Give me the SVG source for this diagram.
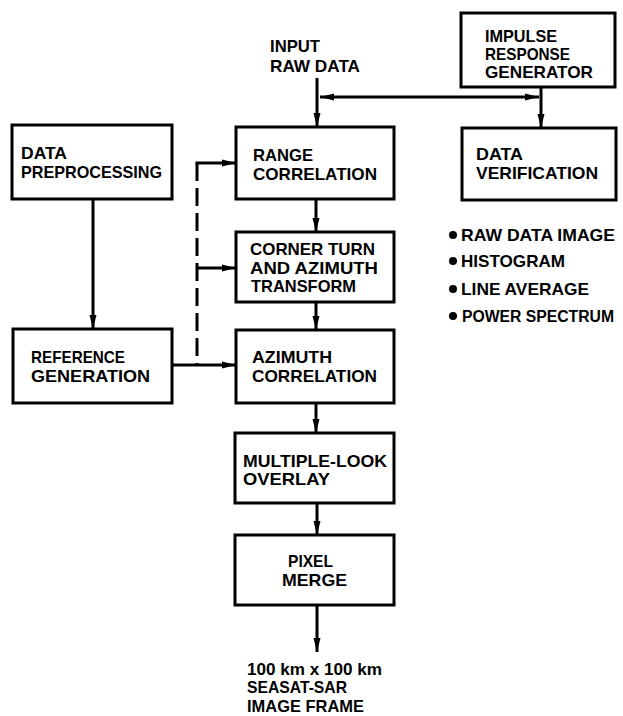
<svg xmlns="http://www.w3.org/2000/svg" width="623" height="716" viewBox="0 0 623 716">
<style>
.box{fill:#fff;stroke:#000;stroke-width:3}
.t{font-family:"Liberation Sans",Arial,sans-serif;font-weight:bold;font-size:17px;fill:#000}
.c{fill:none;stroke:#000;stroke-width:3}
.d{fill:none;stroke:#000;stroke-width:3;stroke-dasharray:18 7}
</style>
<defs>
<marker id="ah" viewBox="0 0 14 8" refX="14" refY="4" markerWidth="14" markerHeight="8" markerUnits="userSpaceOnUse" orient="auto-start-reverse">
<path d="M0,0.5 L14,4 L0,7.5 z" fill="#000"/>
</marker>
</defs>
<rect width="623" height="716" fill="#fff"/>
<g id="connectors">
<path class="c" d="M317,78 V127" marker-end="url(#ah)"/>
<path class="c" d="M320,97 H539" marker-start="url(#ah)" marker-end="url(#ah)"/>
<path class="c" d="M541,87 V128" marker-end="url(#ah)"/>
<path class="c" d="M316,199 V232" marker-end="url(#ah)"/>
<path class="c" d="M316,302 V330" marker-end="url(#ah)"/>
<path class="c" d="M316,403 V433" marker-end="url(#ah)"/>
<path class="c" d="M317,503 V535" marker-end="url(#ah)"/>
<path class="c" d="M317,605 V652" marker-end="url(#ah)"/>
<path class="c" d="M93,199 V329" marker-end="url(#ah)"/>
<path class="c" d="M172,365 H236" marker-end="url(#ah)"/>
<path class="d" d="M197,163 V365"/>
<path class="c" d="M195.5,163 H236" marker-end="url(#ah)"/>
<path class="c" d="M197,268 H236" marker-end="url(#ah)"/>
</g>
<g id="input-label">
<text class="t" x="270" y="52" textLength="50" lengthAdjust="spacingAndGlyphs">INPUT</text>
<text class="t" x="270" y="72" textLength="90" lengthAdjust="spacingAndGlyphs">RAW DATA</text>
</g>
<g id="impulse-response-generator">
<rect class="box" x="461" y="13" width="154" height="74"/>
<text class="t" x="485" y="42" textLength="72" lengthAdjust="spacingAndGlyphs">IMPULSE</text>
<text class="t" x="485" y="60" textLength="85" lengthAdjust="spacingAndGlyphs">RESPONSE</text>
<text class="t" x="485" y="78" textLength="108" lengthAdjust="spacingAndGlyphs">GENERATOR</text>
</g>
<g id="data-preprocessing">
<rect class="box" x="12" y="125" width="160" height="74"/>
<text class="t" x="21" y="159" textLength="46" lengthAdjust="spacingAndGlyphs">DATA</text>
<text class="t" x="21" y="178" textLength="141" lengthAdjust="spacingAndGlyphs">PREPROCESSING</text>
</g>
<g id="range-correlation">
<rect class="box" x="236" y="127" width="158" height="72"/>
<text class="t" x="253" y="161" textLength="60" lengthAdjust="spacingAndGlyphs">RANGE</text>
<text class="t" x="253" y="180" textLength="124" lengthAdjust="spacingAndGlyphs">CORRELATION</text>
</g>
<g id="data-verification">
<rect class="box" x="462" y="128" width="154" height="72"/>
<text class="t" x="476" y="160" textLength="47" lengthAdjust="spacingAndGlyphs">DATA</text>
<text class="t" x="476" y="179" textLength="122" lengthAdjust="spacingAndGlyphs">VERIFICATION</text>
</g>
<g id="verification-list">
<circle cx="453" cy="235" r="4"/>
<text class="t" x="461" y="241" textLength="154" lengthAdjust="spacingAndGlyphs">RAW DATA IMAGE</text>
<circle cx="453" cy="261" r="4"/>
<text class="t" x="461" y="267" textLength="104" lengthAdjust="spacingAndGlyphs">HISTOGRAM</text>
<circle cx="453" cy="289" r="4"/>
<text class="t" x="461" y="295" textLength="128" lengthAdjust="spacingAndGlyphs">LINE AVERAGE</text>
<circle cx="453" cy="316" r="4"/>
<text class="t" x="462" y="322" style="font-size:16px" textLength="152" lengthAdjust="spacingAndGlyphs">POWER SPECTRUM</text>
</g>
<g id="corner-turn">
<rect class="box" x="236" y="232" width="158" height="70"/>
<text class="t" x="250" y="255" textLength="125" lengthAdjust="spacingAndGlyphs">CORNER TURN</text>
<text class="t" x="250" y="274" textLength="128" lengthAdjust="spacingAndGlyphs">AND AZIMUTH</text>
<text class="t" x="251" y="292" textLength="105" lengthAdjust="spacingAndGlyphs">TRANSFORM</text>
</g>
<g id="reference-generation">
<rect class="box" x="13" y="329" width="159" height="74"/>
<text class="t" x="31" y="363" textLength="94" lengthAdjust="spacingAndGlyphs">REFERENCE</text>
<text class="t" x="31" y="382" textLength="119" lengthAdjust="spacingAndGlyphs">GENERATION</text>
</g>
<g id="azimuth-correlation">
<rect class="box" x="236" y="330" width="158" height="73"/>
<text class="t" x="252" y="363" textLength="80" lengthAdjust="spacingAndGlyphs">AZIMUTH</text>
<text class="t" x="252" y="382" textLength="125" lengthAdjust="spacingAndGlyphs">CORRELATION</text>
</g>
<g id="multiple-look-overlay">
<rect class="box" x="235" y="433" width="159" height="70"/>
<text class="t" x="243" y="467" textLength="144" lengthAdjust="spacingAndGlyphs">MULTIPLE-LOOK</text>
<text class="t" x="243" y="485" textLength="87" lengthAdjust="spacingAndGlyphs">OVERLAY</text>
</g>
<g id="pixel-merge">
<rect class="box" x="235" y="535" width="159" height="70"/>
<text class="t" x="288" y="567" textLength="45" lengthAdjust="spacingAndGlyphs">PIXEL</text>
<text class="t" x="282" y="586" textLength="65" lengthAdjust="spacingAndGlyphs">MERGE</text>
</g>
<g id="output-label">
<text class="t" x="247" y="675" textLength="135" lengthAdjust="spacingAndGlyphs">100 km x 100 km</text>
<text class="t" x="247" y="693" textLength="100" lengthAdjust="spacingAndGlyphs">SEASAT-SAR</text>
<text class="t" x="247" y="712" textLength="117" lengthAdjust="spacingAndGlyphs">IMAGE FRAME</text>
</g>
</svg>
